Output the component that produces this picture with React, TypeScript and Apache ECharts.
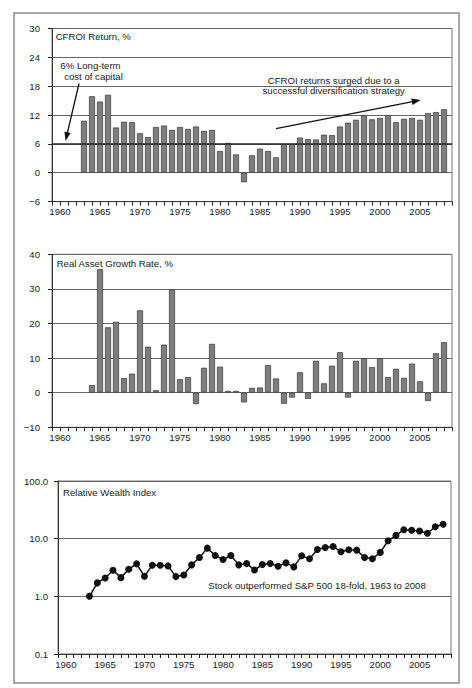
import React, { useEffect, useRef } from "react";
import * as echarts from "echarts";

const YEARS = [
  "1959", "1960", "1961", "1962", "1963", "1964", "1965", "1966", "1967", "1968",
  "1969", "1970", "1971", "1972", "1973", "1974", "1975", "1976", "1977", "1978",
  "1979", "1980", "1981", "1982", "1983", "1984", "1985", "1986", "1987", "1988",
  "1989", "1990", "1991", "1992", "1993", "1994", "1995", "1996", "1997", "1998",
  "1999", "2000", "2001", "2002", "2003", "2004", "2005", "2006", "2007", "2008",
  "2009",
];

const CFROI_START = "1963";
const CFROI = [
  10.8, 15.9, 14.8, 16.2, 9.4, 10.6, 10.5, 8.2, 7.4, 9.5,
  9.8, 8.9, 9.5, 9.1, 9.6, 8.7, 8.9, 4.5, 6.2, 3.8,
  -2.0, 3.6, 5.0, 4.5, 3.2, 6.0, 6.0, 7.3, 7.0, 6.9,
  7.9, 7.8, 9.6, 10.4, 11.0, 12.0, 11.1, 11.4, 12.0, 10.5,
  11.2, 11.4, 11.0, 12.4, 12.6, 13.2,
];

const GROWTH_START = "1964";
const GROWTH = [
  2.2, 35.7, 18.9, 20.5, 4.2, 5.5, 23.8, 13.3, 0.7, 13.9,
  29.9, 3.9, 4.5, -3.3, 7.2, 14.1, 7.5, 0.5, 0.5, -2.8,
  1.4, 1.5, 8.0, 4.1, -3.2, -1.4, 5.9, -1.8, 9.2, 2.7,
  7.8, 11.7, -1.4, 9.2, 10.0, 7.4, 10.0, 4.5, 6.9, 4.3,
  8.4, 3.3, -2.4, 11.4, 14.6,
];

const WEALTH_START = "1963";
const WEALTH = [
  1.0, 1.71, 2.08, 2.84, 2.11, 2.95, 3.66, 2.23, 3.47, 3.47,
  3.37, 2.2, 2.35, 3.51, 4.71, 6.85, 5.11, 4.35, 5.11, 3.51,
  3.7, 2.87, 3.56, 3.7, 3.33, 3.8, 3.24, 5.04, 4.47, 6.5,
  7.03, 7.33, 5.92, 6.41, 6.32, 4.71, 4.47, 5.78, 9.2, 11.4,
  14.3, 14.0, 13.6, 12.4, 16.1, 17.8,
];

const COST_OF_CAPITAL = 6;

const TITLES = ["CFROI Return, %", "Real Asset Growth Rate, %", "Relative Wealth Index"];
const NOTE_COST = ["6% Long-term", "cost of capital"];
const NOTE_SURGE = ["CFROI returns surged due to a", "successful diversification strategy"];
const NOTE_WEALTH = "Stock outperformed S&P 500 18-fold, 1963 to 2008";

const FONT = '"Liberation Sans", Arial, Helvetica, sans-serif';
const FS = 9.6;

function pad(start: string, arr: number[]) {
  const s = YEARS.indexOf(start);
  return YEARS.map((_, i) => (i >= s && i - s < arr.length ? arr[i - s] : null));
}

function arrow(x1: number, y1: number, x2: number, y2: number) {
  const len = 9;
  const half = 3.2;
  const dx = x2 - x1;
  const dy = y2 - y1;
  const d = Math.hypot(dx, dy);
  const ux = dx / d;
  const uy = dy / d;
  const bx = x2 - ux * len;
  const by = y2 - uy * len;
  return [
    {
      type: "line",
      z: 50,
      shape: { x1, y1, x2: bx + ux * 2, y2: by + uy * 2 },
      style: { stroke: "#111", lineWidth: 1.3 },
    },
    {
      type: "polygon",
      z: 50,
      shape: {
        points: [
          [x2, y2],
          [bx - uy * half, by + ux * half],
          [bx + uy * half, by - ux * half],
        ],
      },
      style: { fill: "#111" },
    },
  ];
}

function txt(text: string, x: number, y: number, align: string = "left") {
  return {
    type: "text",
    z: 50,
    style: {
      text,
      x,
      y,
      fill: "#1a1a1a",
      fontSize: FS,
      fontFamily: FONT,
      align,
      verticalAlign: "middle",
    },
  };
}

function xAxisBase(gridIndex: number) {
  return {
    type: "category",
    gridIndex,
    data: YEARS,
    boundaryGap: false,
    axisLine: { show: true, onZero: false, lineStyle: { color: "#333", width: 1 } },
    axisTick: { show: true, interval: 0, length: 4, lineStyle: { color: "#222", width: 1 } },
    axisLabel: {
      interval: (_i: number, v: string) => Number(v) % 5 === 0,
      color: "#1a1a1a",
      fontSize: FS,
      fontFamily: FONT,
      margin: 5,
    },
    splitLine: { show: false },
  };
}

function yAxisBase(gridIndex: number, extra: any, margin: number, formatter: any) {
  return {
    gridIndex,
    ...extra,
    axisLine: { show: true, lineStyle: { color: "#333", width: 1 } },
    axisTick: { show: true, length: 4, lineStyle: { color: "#222", width: 1 } },
    splitLine: { show: true, lineStyle: { color: "#666", width: 1 } },
    axisLabel: { color: "#1a1a1a", fontSize: FS, fontFamily: FONT, margin, formatter },
  };
}

export default function App() {
  const ref = useRef<HTMLDivElement>(null);

  useEffect(() => {
    if (!ref.current) return;
    const chart = echarts.init(ref.current, undefined, { renderer: "svg" });

    const minus = (v: number) => String(v).replace("-", "\u2212");
    const barItem = { color: "#7d7d7d", borderColor: "#383838", borderWidth: 0.7 };

    const option = {
      animation: false,
      grid: [
        { left: 52, right: 20, top: 28.5, height: 173, show: true, borderColor: "#777", borderWidth: 1 },
        { left: 52, right: 20, top: 254.3, height: 173, show: true, borderColor: "#777", borderWidth: 1 },
        { left: 58, right: 21, top: 481, height: 173, show: true, borderColor: "#777", borderWidth: 1 },
      ],
      xAxis: [xAxisBase(0), xAxisBase(1), xAxisBase(2)],
      yAxis: [
        yAxisBase(0, { type: "value", min: -6, max: 30, interval: 6 }, 12, minus),
        yAxisBase(1, { type: "value", min: -10, max: 40, interval: 10 }, 12, minus),
        yAxisBase(
          2,
          { type: "log", logBase: 10, min: 0.1, max: 100, interval: 1, minorTick: { show: false }, minorSplitLine: { show: false } },
          10,
          (v: number) => Number(v).toFixed(1)
        ),
      ],
      series: [
        {
          type: "bar",
          xAxisIndex: 0,
          yAxisIndex: 0,
          data: pad(CFROI_START, CFROI),
          barWidth: 6,
          itemStyle: barItem,
          markLine: {
            silent: true,
            symbol: "none",
            label: { show: false },
            lineStyle: { color: "#2a2a2a", width: 1.6, type: "solid" },
            data: [{ yAxis: COST_OF_CAPITAL }],
            z: 10,
          },
        },
        {
          type: "bar",
          xAxisIndex: 1,
          yAxisIndex: 1,
          data: pad(GROWTH_START, GROWTH),
          barWidth: 6,
          itemStyle: barItem,
        },
        {
          type: "line",
          xAxisIndex: 2,
          yAxisIndex: 2,
          data: pad(WEALTH_START, WEALTH),
          symbol: "circle",
          symbolSize: 7,
          showSymbol: true,
          showAllSymbol: true,
          lineStyle: { color: "#111", width: 1.5 },
          itemStyle: { color: "#111" },
        },
      ],
      graphic: [
        {
          type: "rect",
          z: 40,
          shape: { x: 14, y: 13, width: 445, height: 670 },
          style: { fill: "none", stroke: "#8a8a8a", lineWidth: 1.5 },
        },
        txt(TITLES[0], 55.7, 36.7),
        txt(TITLES[1], 56.7, 263.7),
        txt(TITLES[2], 63, 492.3),
        txt(NOTE_COST[0], 90.5, 65, "center"),
        txt(NOTE_COST[1], 93.5, 76, "center"),
        txt(NOTE_SURGE[0], 333.7, 80, "center"),
        txt(NOTE_SURGE[1], 333.7, 90.7, "center"),
        txt(NOTE_WEALTH, 208.3, 585.3),
        ...arrow(79, 83.5, 65.5, 141),
        ...arrow(276, 128.7, 420.7, 100),
      ],
    };

    chart.setOption(option as any);
    return () => chart.dispose();
  }, []);

  return (
    <div
      ref={ref}
      style={{ position: "fixed", left: 0, top: 0, width: 472, height: 688, background: "#fff" }}
    />
  );
}
